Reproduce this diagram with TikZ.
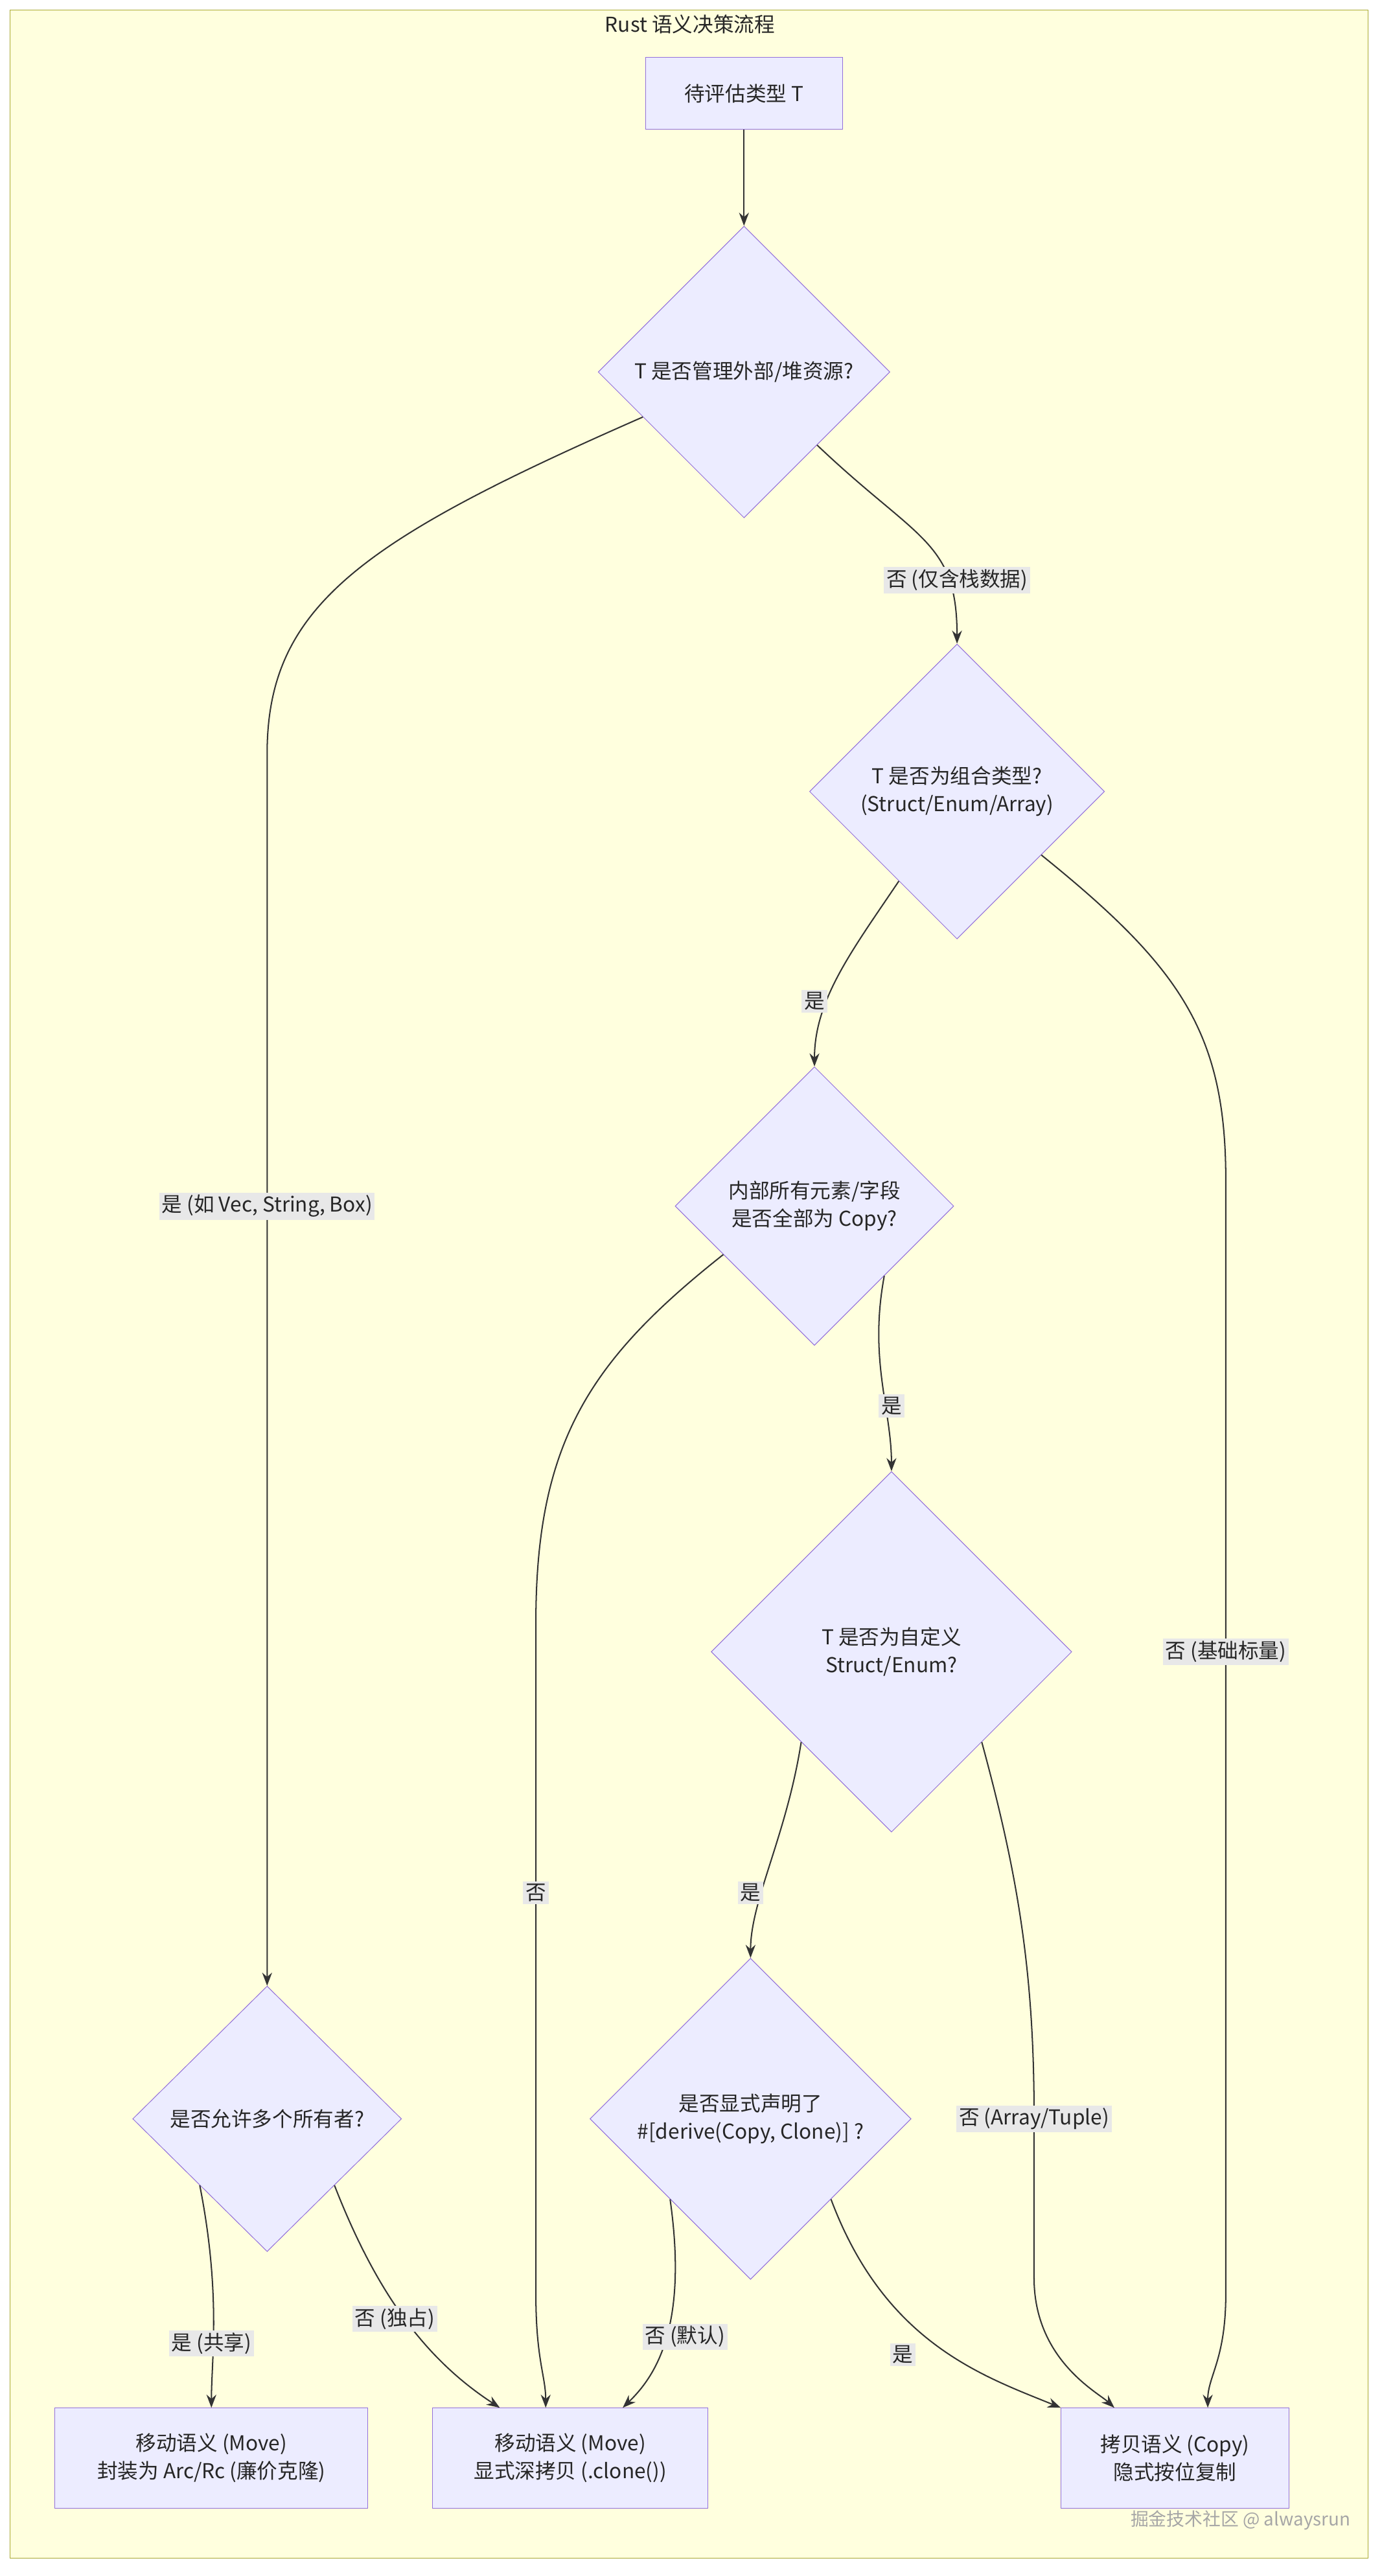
\documentclass[tikz,border=0pt]{standalone}
\usepackage{fontspec}
\setmainfont{Noto Sans CJK SC}
\usetikzlibrary{shapes.geometric,arrows.meta}
\definecolor{bg}{HTML}{FFFFDE}
\definecolor{fr}{HTML}{AAAA33}
\definecolor{nf}{HTML}{ECECFF}
\definecolor{nd}{HTML}{9370DB}
\definecolor{lb}{HTML}{E8E8E8}
\begin{document}
\begin{tikzpicture}[x=1pt,y=-1pt,
  every node/.style={font=\fontsize{12.5}{17}\selectfont,text=black!85},
  box/.style={draw=nd,fill=nf,align=center,inner sep=0pt},
  dia/.style={diamond,draw=nd,fill=nf,align=center,inner sep=0pt,aspect=1},
  lab/.style={fill=lb,inner sep=1.5pt,align=center},
  arr/.style={draw=black!80,line width=0.8pt,-{Stealth[length=8pt,width=6pt]}}]
\useasboundingbox (0,0) rectangle (843,1572);
\draw[fill=bg,draw=fr] (6,6) rectangle (835,1561);
\node (title) at (421,15) {Rust 语义决策流程};
\node[box,minimum width=120pt,minimum height=44pt] (s) at (454,57) {待评估类型 T};
\node[dia,minimum width=178pt,minimum height=178pt] (d1) at (454,227) {T 是否管理外部/堆资源?};
\node[dia,minimum width=180pt,minimum height=180pt] (d2) at (584,483) {T 是否为组合类型?\\(Struct/Enum/Array)};
\node[dia,minimum width=170pt,minimum height=170pt] (d3) at (497,736) {内部所有元素/字段\\是否全部为 Copy?};
\node[dia,minimum width=220pt,minimum height=220pt] (d4) at (544,1008) {T 是否为自定义\\Struct/Enum?};
\node[dia,minimum width=164pt,minimum height=162pt] (d5) at (163,1293) {是否允许多个所有者?};
\node[dia,minimum width=196pt,minimum height=196pt] (d6) at (458,1293) {是否显式声明了\\\#[derive(Copy, Clone)] ?};
\node[box,minimum width=191pt,minimum height=61pt] (r1) at (129,1500) {移动语义 (Move)\\封装为 Arc/Rc (廉价克隆)};
\node[box,minimum width=168pt,minimum height=61pt] (r2) at (348,1500) {移动语义 (Move)\\显式深拷贝 (.clone())};
\node[box,minimum width=139pt,minimum height=61pt] (r3) at (717,1500) {拷贝语义 (Copy)\\隐式按位复制};
\node[text=gray!70,font=\fontsize{11}{13}\selectfont] (wm) at (757,1538) {掘金技术社区 @ alwaysrun};

\draw[arr] (s) -- (d1.north);
\draw[arr] (d1.south east) .. controls (560,330) and (584,330) .. (d2.north);
\draw[arr] (d1.204) .. controls (220,330) and (163,370) .. (163,460) -- (d5.north);
\draw[arr] (d2.237) .. controls (520,580) and (497,610) .. (d3.north);
\draw[arr] (d2.323) .. controls (720,590) and (748,630) .. (748,720) -- (748,1400) .. controls (748,1440) and (737,1450) .. ([xshift=20pt]r3.north);
\draw[arr] (d3.south east) .. controls (530,830) and (544,860) .. (d4.north);
\draw[arr] (d3.208) .. controls (360,830) and (327,880) .. (327,990) -- (327,1400) .. controls (327,1440) and (333,1450) .. ([xshift=-15pt]r2.north);
\draw[arr] (d4.south west) .. controls (480,1120) and (458,1160) .. (d6.north);
\draw[arr] (d4.south east) .. controls (620,1140) and (631,1200) .. (631,1290) -- (631,1390) .. controls (631,1440) and (670,1460) .. ([xshift=-37pt]r3.north);
\draw[arr] (d5.south west) .. controls (135,1400) and (129,1440) .. (r1.north);
\draw[arr] (d5.south east) .. controls (230,1400) and (260,1440) .. ([xshift=-43pt]r2.north);
\draw[arr] (d6.south west) .. controls (420,1420) and (400,1450) .. ([xshift=32pt]r2.north);
\draw[arr] (d6.south east) .. controls (540,1430) and (600,1450) .. (r3.north west);

\node[lab] (l1) at (584,354) {否 (仅含栈数据)};
\node[lab] (l2) at (163,736) {是 (如 Vec, String, Box)};
\node[lab] (l3) at (497,611) {是};
\node[lab] (l4) at (748,1008) {否 (基础标量)};
\node[lab] (l5) at (544,858) {是};
\node[lab] (l6) at (327,1155) {否};
\node[lab] (l7) at (458,1155) {是};
\node[lab] (l8) at (631,1293) {否 (Array/Tuple)};
\node[lab] (l9) at (129,1430) {是 (共享)};
\node[lab] (l10) at (241,1415) {否 (独占)};
\node[lab] (l11) at (418,1426) {否 (默认)};
\node[lab] (l12) at (551,1437) {是};
\end{tikzpicture}
\end{document}
